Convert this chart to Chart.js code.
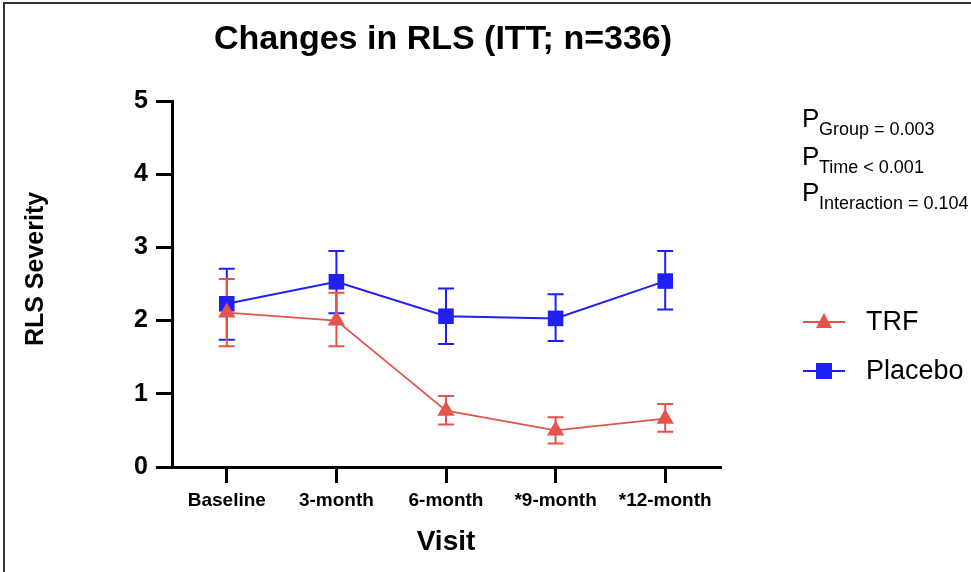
<!DOCTYPE html>
<html>
<head>
<meta charset="utf-8">
<script src="https://cdn.jsdelivr.net/npm/chart.js@4.4.1/dist/chart.umd.min.js"></script>
<style>
  html, body { margin: 0; padding: 0; background: #fff; }
  #wrap { position: relative; width: 971px; height: 572px; }
</style>
</head>
<body>
<div id="wrap"><canvas id="rlsChart" width="971" height="572"></canvas></div>
<script>
const visits = ['Baseline', '3-month', '6-month', '*9-month', '*12-month'];
const trfMean = [2.11, 2.00, 0.77, 0.50, 0.66];
const trfLow = [1.65, 1.65, 0.58, 0.32, 0.48];
const trfHigh = [2.57, 2.38, 0.97, 0.68, 0.86];
const placeboMean = [2.23, 2.53, 2.06, 2.03, 2.54];
const placeboLow = [1.74, 2.10, 1.68, 1.72, 2.15];
const placeboHigh = [2.71, 2.95, 2.44, 2.36, 2.95];
const yTicks = [0, 1, 2, 3, 4, 5];
const pValues = [['Group', ' = 0.003'], ['Time', ' < 0.001'], ['Interaction', ' = 0.104']];

const RED = '#e5534b';
const BLUE = '#2020f5';
const FONT = '"Liberation Sans", Arial, Helvetica, sans-serif';

// error bars, drawn with the chart's own scales
const errorBars = {
    id: 'errorBars',
    beforeDatasetsDraw(chart) {
        const ctx = chart.ctx;
        const xs = chart.scales.x, ys = chart.scales.y;
        const sets = [[placeboLow, placeboHigh, BLUE], [trfLow, trfHigh, RED]];
        sets.forEach(([lo, hi, color]) => {
            ctx.save();
            ctx.strokeStyle = color;
            ctx.lineWidth = 2;
            lo.forEach((v, i) => {
                const px = xs.getPixelForValue(i);
                const y1 = ys.getPixelForValue(v);
                const y2 = ys.getPixelForValue(hi[i]);
                ctx.beginPath();
                ctx.moveTo(px, y1); ctx.lineTo(px, y2);
                ctx.moveTo(px - 8, y1); ctx.lineTo(px + 8, y1);
                ctx.moveTo(px - 8, y2); ctx.lineTo(px + 8, y2);
                ctx.stroke();
            });
            ctx.restore();
        });
    }
};

// title, y title, p-values, legend, frame
const decorations = {
    id: 'decorations',
    afterDraw(chart) {
        const ctx = chart.ctx;
        ctx.save();

        ctx.fillStyle = '#333';
        ctx.fillRect(3, 2, 968, 2);
        ctx.fillRect(3, 2, 2, 570);

        ctx.fillStyle = '#000';
        ctx.textAlign = 'center';
        ctx.textBaseline = 'middle';
        ctx.font = 'bold 34px ' + FONT;
        ctx.fillText('Changes in RLS (ITT; n=336)', 443, 40);

        ctx.save();
        ctx.translate(36, 269);
        ctx.rotate(-Math.PI / 2);
        ctx.font = 'bold 25px ' + FONT;
        ctx.fillText('RLS Severity', 0, 0);
        ctx.restore();

        ctx.textAlign = 'left';
        ctx.textBaseline = 'alphabetic';
        const baselines = [127, 165, 201];
        pValues.forEach(([sub, rest], i) => {
            ctx.font = '26px ' + FONT;
            ctx.fillText('P', 802, baselines[i]);
            ctx.font = '18px ' + FONT;
            ctx.fillText(sub + rest, 819, baselines[i] + 8);
        });

        const legend = [['TRF', RED, 'triangle', 322], ['Placebo', BLUE, 'rect', 371]];
        legend.forEach(([label, color, style, ly]) => {
            ctx.strokeStyle = color;
            ctx.fillStyle = color;
            ctx.lineWidth = 2;
            ctx.beginPath();
            ctx.moveTo(803, ly); ctx.lineTo(845, ly);
            ctx.stroke();
            ctx.beginPath();
            if (style === 'triangle') {
                ctx.moveTo(824, ly - 9);
                ctx.lineTo(832, ly + 6);
                ctx.lineTo(816, ly + 6);
            } else {
                ctx.rect(816, ly - 8, 16, 16);
            }
            ctx.fill();
            ctx.fillStyle = '#000';
            ctx.font = '27px ' + FONT;
            ctx.textBaseline = 'middle';
            ctx.fillText(label, 866, ly + 1);
        });

        ctx.restore();
    }
};

new Chart(document.getElementById('rlsChart'), {
    type: 'line',
    data: {
        labels: visits,
        datasets: [
            {
                label: 'TRF',
                data: trfMean,
                borderColor: RED,
                backgroundColor: RED,
                borderWidth: 1.8,
                pointStyle: 'triangle',
                pointRadius: 10,
                pointBorderWidth: 0,
                tension: 0
            },
            {
                label: 'Placebo',
                data: placeboMean,
                borderColor: BLUE,
                backgroundColor: BLUE,
                borderWidth: 2,
                pointStyle: 'rect',
                pointRadius: 11,
                pointBorderWidth: 0,
                tension: 0
            }
        ]
    },
    options: {
        responsive: false,
        animation: false,
        devicePixelRatio: 1,
        layout: { padding: { left: 0, right: 251, top: 101, bottom: 0 } },
        plugins: {
            legend: { display: false },
            title: { display: false },
            tooltip: { enabled: false }
        },
        scales: {
            x: {
                type: 'category',
                offset: true,
                grid: { offset: false, drawOnChartArea: false, drawTicks: true, tickLength: 16, lineWidth: 3, color: '#000' },
                border: { display: true, width: 3, color: '#000' },
                ticks: { color: '#000', font: { family: FONT, size: 19, weight: 'bold' }, padding: 6, maxRotation: 0, autoSkip: false },
                title: { display: true, text: 'Visit', color: '#000', font: { family: FONT, size: 28, weight: 'bold' }, padding: { top: 0, bottom: 13 } },
                afterFit(scale) { scale.height = 105; }
            },
            y: {
                min: 0,
                max: 5,
                grid: { drawOnChartArea: false, drawTicks: true, tickLength: 16, lineWidth: 3, color: '#000' },
                border: { display: true, width: 3, color: '#000' },
                ticks: { color: '#000', font: { family: FONT, size: 25, weight: 'bold' }, padding: 8 },
                afterBuildTicks(scale) { scale.ticks = yTicks.map(v => ({ value: v })); },
                afterFit(scale) { scale.width = 172; }
            }
        }
    },
    plugins: [errorBars, decorations]
});
</script>
</body>
</html>
